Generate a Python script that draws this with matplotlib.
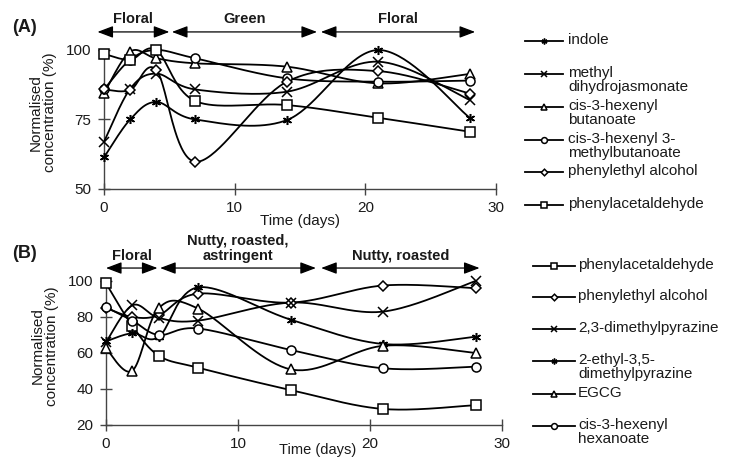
import numpy as np
import matplotlib
matplotlib.use("Agg")
import matplotlib.pyplot as plt
from matplotlib.lines import Line2D

plt.rcParams["font.family"] = ["Liberation Sans", "DejaVu Sans"]

TEXT = "#1a1a1a"
AXIS = "#444444"

# ---- data -------------------------------------------------------------
days = [0, 2, 4, 7, 14, 21, 28]

# Panel A (floral / green volatiles)
a_indole = [61.4, 75.0, 81.3, 75.0, 74.8, 100.0, 75.6]
a_methyl_dihydrojasmonate = [67.0, 86.0, 91.5, 85.8, 85.0, 95.8, 82.0]
a_hexenyl_butanoate = [84.4, 99.4, 97.0, 95.2, 94.0, 88.0, 91.4]
a_hexenyl_methylbutanoate = [85.8, 96.5, 100.0, 97.0, 89.8, 88.6, 89.0]
a_phenylethyl_alcohol = [85.8, 85.6, 92.8, 59.8, 88.6, 92.4, 84.3]
a_phenylacetaldehyde = [98.6, 96.5, 100.0, 81.6, 80.2, 75.6, 70.6]

# Panel B (nutty / roasted)
b_phenylacetaldehyde = [98.7, 75.0, 58.5, 51.8, 39.4, 28.9, 31.0]
b_phenylethyl_alcohol = [85.0, 80.0, 81.0, 93.0, 88.0, 97.5, 96.0]
b_dimethylpyrazine = [66.0, 86.5, 79.5, 78.0, 88.0, 83.0, 100.0]
b_ethyl_dimethylpyrazine = [66.5, 71.0, 69.0, 96.5, 78.5, 65.0, 69.0]
b_egcg = [62.6, 50.2, 85.0, 84.6, 50.9, 64.0, 60.0]
b_hexenyl_hexanoate = [85.5, 78.0, 70.0, 73.6, 61.7, 51.5, 52.4]

a_labels = ["indole", "methyl\ndihydrojasmonate", "cis-3-hexenyl\nbutanoate",
            "cis-3-hexenyl 3-\nmethylbutanoate", "phenylethyl alcohol",
            "phenylacetaldehyde"]
b_labels = ["phenylacetaldehyde", "phenylethyl alcohol", "2,3-dimethylpyrazine",
            "2-ethyl-3,5-\ndimethylpyrazine", "EGCG", "cis-3-hexenyl\nhexanoate"]

a_phases = [("Floral", -0.5, 5.0), ("Green", 5.2, 16.3), ("Floral", 16.6, 28.4)]
b_phases = [("Floral", 0.0, 3.9), ("Nutty, roasted,\nastringent", 4.1, 15.9),
            ("Nutty, roasted", 16.3, 28.3)]

ASTER = (6, 2, 0)
a_markers = [ASTER, "x", "^", "o", "D", "s"]
b_markers = ["s", "D", "x", ASTER, "^", "o"]


def smooth(x, y, n=40):
    """Piecewise cubic Bezier through the points (Catmull-Rom, tension 1/6)."""
    p = np.column_stack([x, y]).astype(float)
    ext = np.vstack([p[0], p, p[-1]])
    s = np.linspace(0, 1, n)[:, None]
    out = []
    for i in range(len(p) - 1):
        p0, p1, p2, p3 = ext[i], ext[i + 1], ext[i + 2], ext[i + 3]
        c1 = p1 + (p2 - p0) / 6.0
        c2 = p2 - (p3 - p1) / 6.0
        seg = ((1 - s) ** 3) * p1 + 3 * ((1 - s) ** 2) * s * c1 \
            + 3 * (1 - s) * s ** 2 * c2 + s ** 3 * p2
        out.append(seg if i == 0 else seg[1:])
    seg = np.vstack(out)
    return seg[:, 0], seg[:, 1]


def marker_kw(m, size=6.5):
    filled = m not in ("x", ASTER)
    kw = dict(marker=m, linestyle="none", markersize=size if m != "D" else size * 0.8,
              markeredgecolor="black", markeredgewidth=1.1, clip_on=False, zorder=4)
    if filled:
        kw["markerfacecolor"] = "white"
    return kw


W, H = 729, 459
fig = plt.figure(figsize=(W / 100, H / 100), dpi=100)


def fx(px):
    return px / W


def fy(py):
    return 1 - py / H


def style_axes(ax, ylim, yticks):
    ax.set_xlim(0, 30)
    ax.set_ylim(*ylim)
    ax.set_xticks([0, 10, 20, 30])
    ax.set_yticks(yticks)
    for side in ("top", "right"):
        ax.spines[side].set_visible(False)
    for side in ("left", "bottom"):
        ax.spines[side].set_color(AXIS)
        ax.spines[side].set_linewidth(1.0)
    ax.tick_params(direction="inout", length=8, width=1.0, color=AXIS,
                   labelsize=11, labelcolor=TEXT, pad=5)
    ax.patch.set_visible(False)


def phases(ax, items, yarrow, ytext):
    for label, x0, x1 in items:
        ax.annotate("", xy=(x1, yarrow), xytext=(x0, yarrow), xycoords="data",
                    annotation_clip=False,
                    arrowprops=dict(arrowstyle="<|-|>,head_length=0.95,head_width=0.36",
                                    color="black", lw=0.9, shrinkA=0, shrinkB=0))
        ax.text((x0 + x1) / 2, ytext, label, ha="center", va="bottom",
                fontsize=10.5, fontweight="bold", color=TEXT, clip_on=False,
                linespacing=1.05)


def legend(items, markers, x0, x1, xt, ys):
    for lab, m, y in zip(items, markers, ys):
        fig.add_artist(Line2D([fx(x0), fx(x1)], [fy(y), fy(y)], color="black",
                              lw=1.3, transform=fig.transFigure))
        kw = marker_kw(m, size=4.2)
        kw.pop("clip_on")
        fig.add_artist(Line2D([fx((x0 + x1) / 2)], [fy(y)], transform=fig.transFigure, **kw))
        fig.text(fx(xt), fy(y - 8), lab, ha="left", va="top", fontsize=11,
                 color=TEXT, linespacing=0.98)


# ---- panel A ----------------------------------------------------------
axA = fig.add_axes([fx(104), fy(189), (496 - 104) / W, (189 - 50) / H])
style_axes(axA, (50, 100), [50, 75, 100])
a_series = [a_indole, a_methyl_dihydrojasmonate, a_hexenyl_butanoate,
            a_hexenyl_methylbutanoate, a_phenylethyl_alcohol, a_phenylacetaldehyde]
for vals, m in zip(a_series, a_markers):
    sx, sy = smooth(days, vals)
    axA.plot(sx, sy, color="black", lw=1.3, clip_on=False, zorder=3)
    axA.plot(days, vals, **marker_kw(m))
axA.set_xlabel("Time (days)", fontsize=11, color=TEXT)
axA.xaxis.set_label_coords(0.5, -0.18)
axA.set_ylabel("Normalised\nconcentration (%)", fontsize=11, color=TEXT,
               linespacing=1.0, va="center")
axA.yaxis.set_label_coords(-0.156, 0.55)
phases(axA, a_phases, 106.5, 108.6)
fig.text(fx(12), fy(32), "(A)", fontsize=13, fontweight="bold", color=TEXT,
         ha="left", va="baseline")
legend(a_labels, a_markers, 525, 563, 568, [41, 74, 107, 140, 172, 205])

# ---- panel B ----------------------------------------------------------
axB = fig.add_axes([fx(106), fy(425), (502 - 106) / W, (425 - 281) / H])
style_axes(axB, (20, 100), [20, 40, 60, 80, 100])
b_series = [b_phenylacetaldehyde, b_phenylethyl_alcohol, b_dimethylpyrazine,
            b_ethyl_dimethylpyrazine, b_egcg, b_hexenyl_hexanoate]
for vals, m in zip(b_series, b_markers):
    sx, sy = smooth(days, vals)
    axB.plot(sx, sy, color="black", lw=1.3, clip_on=False, zorder=3)
    axB.plot(days, vals, **marker_kw(m))
axB.set_xlabel("Time (days)", fontsize=10.5, color=TEXT)
axB.xaxis.set_label_coords(0.535, -0.125)
axB.set_ylabel("Normalised\nconcentration (%)", fontsize=11, color=TEXT,
               linespacing=1.0, va="center")
axB.yaxis.set_label_coords(-0.155, 0.55)
phases(axB, b_phases, 107.2, 110.0)
fig.text(fx(12), fy(258), "(B)", fontsize=13, fontweight="bold", color=TEXT,
         ha="left", va="baseline")
legend(b_labels, b_markers, 533, 575, 578, [266, 297, 329, 361, 394, 426])

fig.savefig("out.png", dpi=100)
